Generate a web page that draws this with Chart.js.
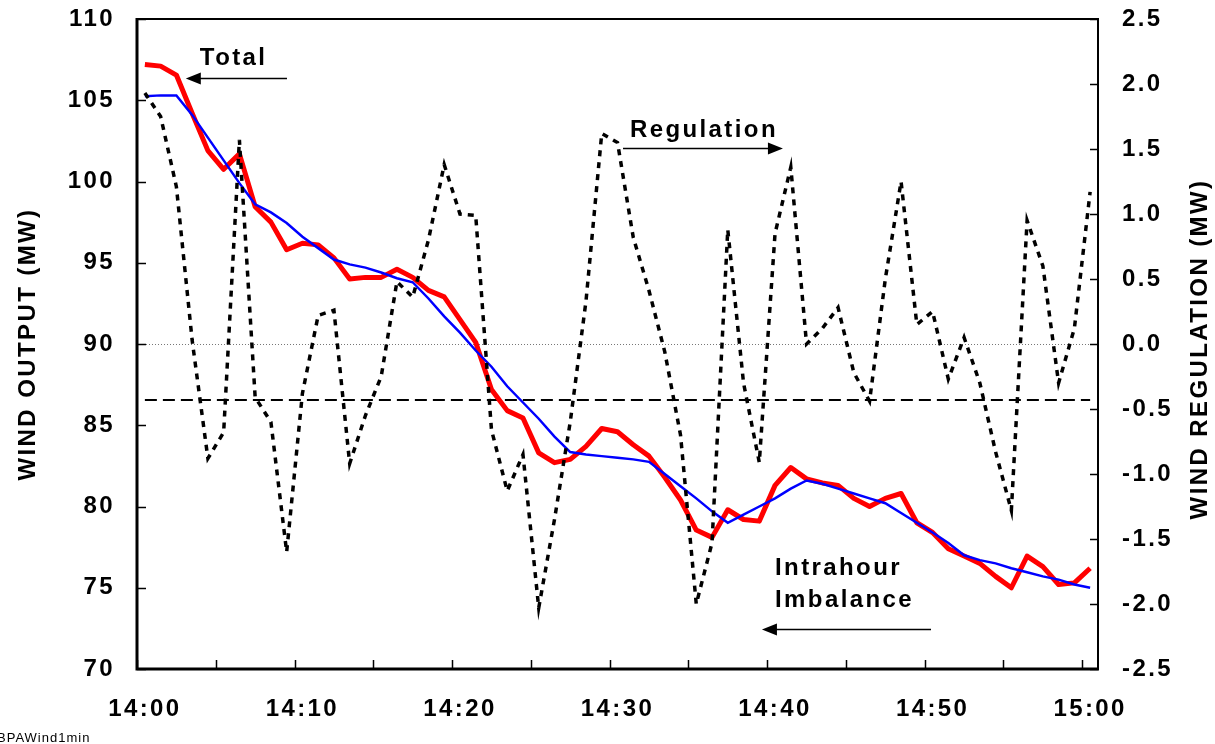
<!DOCTYPE html>
<html>
<head>
<meta charset="utf-8">
<script src="https://cdn.jsdelivr.net/npm/chart.js@4.4.1/dist/chart.umd.min.js"></script>
<style>
    html, body { margin: 0; padding: 0; background: #fff; }
    #wrap { position: relative; width: 1215px; height: 744px; }
</style>
</head>
<body>
<div id="wrap"><canvas id="wind" width="1215" height="744"></canvas></div>
<script>
// one category per minute
const minutes = [
    '14:00', '14:01', '14:02', '14:03', '14:04', '14:05', '14:06', '14:07', '14:08', '14:09',
    '14:10', '14:11', '14:12', '14:13', '14:14', '14:15', '14:16', '14:17', '14:18', '14:19',
    '14:20', '14:21', '14:22', '14:23', '14:24', '14:25', '14:26', '14:27', '14:28', '14:29',
    '14:30', '14:31', '14:32', '14:33', '14:34', '14:35', '14:36', '14:37', '14:38', '14:39',
    '14:40', '14:41', '14:42', '14:43', '14:44', '14:45', '14:46', '14:47', '14:48', '14:49',
    '14:50', '14:51', '14:52', '14:53', '14:54', '14:55', '14:56', '14:57', '14:58', '14:59',
    '15:00'
];
const xTickLabels = ['14:00', '14:10', '14:20', '14:30', '14:40', '14:50', '15:00'];

// wind output, MW (left axis)
const total = [
    107.2, 107.1, 106.55, 104.2, 101.9, 100.75, 101.7, 98.45, 97.5, 95.8,
    96.2, 96.1, 95.3, 94.0, 94.1, 94.1, 94.6, 94.1, 93.3, 92.9,
    91.5, 90.1, 87.2, 85.9, 85.45, 83.3, 82.7, 82.9, 83.7, 84.8,
    84.6, 83.8, 83.1, 81.8, 80.4, 78.55, 78.1, 79.8, 79.2, 79.1,
    81.3, 82.4, 81.7, 81.45, 81.3, 80.5, 80.0, 80.5, 80.8, 79.0,
    78.4, 77.4, 76.95, 76.5, 75.7, 75.0, 76.95, 76.3, 75.2, 75.3,
    76.2
];
const imbalance = [
    105.25, 105.3, 105.3, 104.1, 102.7, 101.3, 99.9, 98.6, 98.1, 97.45,
    96.6, 95.9, 95.2, 94.9, 94.7, 94.4, 94.05, 93.8, 92.8, 91.7,
    90.7, 89.6, 88.6, 87.4, 86.4, 85.4, 84.3, 83.35, 83.2, 83.1,
    83.0, 82.9, 82.75, 82.0, 81.25, 80.5, 79.7, 79.0, 79.5, 80.0,
    80.5, 81.1, 81.6, 81.4, 81.1, 80.8, 80.5, 80.2, 79.6, 79.0,
    78.4, 77.75, 77.0, 76.7, 76.5, 76.2, 75.95, 75.7, 75.5, 75.2,
    75.0
];

// wind regulation, MW (right axis)
const regulation = [
    1.93, 1.75, 1.21, 0.03, -0.88, -0.68, 1.57, -0.41, -0.6, -1.6,
    -0.38, 0.22, 0.26, -0.92, -0.55, -0.25, 0.48, 0.36, 0.8, 1.38,
    1.0, 0.99, -0.66, -1.13, -0.85, -2.03, -1.35, -0.6, 0.33, 1.62,
    1.55, 0.82, 0.41, -0.06, -0.7, -2.0, -1.53, 0.88, -0.3, -0.91,
    0.85, 1.36, 0.0, 0.12, 0.28, -0.22, -0.44, 0.5, 1.25, 0.15,
    0.25, -0.27, 0.05, -0.3, -0.83, -1.28, 0.95, 0.6, -0.3, 0.12,
    1.17
];
const regulationMean = -0.43;

const outputAxis = { min: 70, max: 110, step: 5 };
const regulationAxis = { min: -2.5, max: 2.5, step: 0.5 };

// labels placed in data units: m = minute index, v = MW on the left axis
const notes = [
    { text: 'Total', m: 3.49, v: 107.17 },
    { text: 'Regulation', m: 30.79, v: 102.74 },
    { text: 'Intrahour', m: 40.0, v: 75.78 },
    { text: 'Imbalance', m: 40.0, v: 73.82 }
];
const arrows = [
    { from: 9.02, to: 2.6, v: 106.37 },
    { from: 30.35, to: 40.5, v: 102.06 },
    { from: 49.9, to: 39.17, v: 72.46 }
];

const FONT = '"Liberation Sans", Arial, sans-serif';
const SPACING = '2.4px';

const fmtReg = v => (Math.abs(v) < 1e-9 ? 0 : v).toFixed(1);

const drawArrow = (ctx, x1, y, x2) => {
    const dir = Math.sign(x2 - x1);
    ctx.lineWidth = 1.3;
    ctx.beginPath();
    ctx.moveTo(x1, y);
    ctx.lineTo(x2 - dir * 10, y);
    ctx.stroke();
    ctx.beginPath();
    ctx.moveTo(x2, y);
    ctx.lineTo(x2 - dir * 15, y - 6);
    ctx.lineTo(x2 - dir * 15, y + 6);
    ctx.closePath();
    ctx.fill();
};

const framePlugin = {
    id: 'frame',
    beforeUpdate(chart) { chart.ctx.letterSpacing = SPACING; },
    beforeDraw(chart) { chart.ctx.letterSpacing = SPACING; },
    beforeDatasetsDraw(chart) {
        const { ctx, chartArea: a, scales } = chart;
        const y0 = scales.y1.getPixelForValue(0);
        ctx.save();
        ctx.strokeStyle = '#777';
        ctx.lineWidth = 1;
        ctx.setLineDash([1, 2]);
        ctx.beginPath();
        ctx.moveTo(a.left, y0 + 0.5);
        ctx.lineTo(a.right, y0 + 0.5);
        ctx.stroke();
        ctx.restore();
    },
    afterDraw(chart) {
        const { ctx, chartArea: a, scales } = chart;
        const x = scales.x, y = scales.y, y1 = scales.y1;
        const x0 = x.getPixelForValue(0);
        const slot = x.getPixelForValue(1) - x0;
        const px = m => x0 + m * slot;

        ctx.save();
        ctx.strokeStyle = '#000';
        ctx.fillStyle = '#000';

        // plot frame
        ctx.lineWidth = 2;
        ctx.beginPath();
        ctx.moveTo(a.left, a.top);
        ctx.lineTo(a.right, a.top);
        ctx.lineTo(a.right, a.bottom);
        ctx.stroke();
        ctx.lineWidth = 3;
        ctx.beginPath();
        ctx.moveTo(a.left, a.top - 1);
        ctx.lineTo(a.left, a.bottom);
        ctx.lineTo(a.right + 1, a.bottom);
        ctx.stroke();

        // inward tick marks
        ctx.lineWidth = 1.5;
        ctx.beginPath();
        for (let i = 0; i < minutes.length; i += 5) {
            const tx = Math.round(px(i - 0.5)) + 0.5;
            ctx.moveTo(tx, a.bottom);
            ctx.lineTo(tx, a.bottom - 9);
        }
        for (let v = outputAxis.min; v <= outputAxis.max; v += outputAxis.step) {
            const ty = Math.round(y.getPixelForValue(v)) + 0.5;
            ctx.moveTo(a.left, ty);
            ctx.lineTo(a.left + 9, ty);
        }
        for (let v = regulationAxis.min; v <= regulationAxis.max + 1e-9; v += regulationAxis.step) {
            const ty = Math.round(y1.getPixelForValue(v)) + 0.5;
            ctx.moveTo(a.right, ty);
            ctx.lineTo(a.right - 8, ty);
        }
        ctx.stroke();

        // text labels and arrows
        ctx.letterSpacing = SPACING;
        ctx.font = 'bold 24px ' + FONT;
        ctx.textAlign = 'left';
        ctx.textBaseline = 'alphabetic';
        notes.forEach(n => ctx.fillText(n.text, px(n.m), y.getPixelForValue(n.v)));
        arrows.forEach(r => drawArrow(ctx, px(r.from), Math.round(y.getPixelForValue(r.v)) + 0.5, px(r.to)));

        // axis titles, both read bottom to top
        const midY = (a.top + a.bottom) / 2;
        ctx.textAlign = 'center';
        ctx.save();
        ctx.translate(a.left - 102, midY);
        ctx.rotate(-Math.PI / 2);
        ctx.fillText('WIND OUTPUT (MW)', 0, 0);
        ctx.restore();
        ctx.save();
        ctx.translate(a.right + 109, midY + 5);
        ctx.rotate(-Math.PI / 2);
        ctx.fillText('WIND REGULATION (MW)', 0, 0);
        ctx.restore();

        // file name in the corner
        ctx.letterSpacing = '1px';
        ctx.font = '13px ' + FONT;
        ctx.textAlign = 'left';
        ctx.fillText('BPAWind1min', -3, chart.height - 2);
        ctx.restore();
    }
};

const tickFont = { family: FONT, size: 24, weight: 'bold' };

const fitY = width => s => {
    s.width = width;
    s.paddingTop = 19;
    s.paddingBottom = 0;
};

new Chart(document.getElementById('wind'), {
    type: 'line',
    data: {
        labels: minutes,
        datasets: [
            {
                label: 'Regulation',
                data: regulation,
                yAxisID: 'y1',
                borderColor: '#000',
                borderWidth: 3.5,
                borderDash: [6, 6],
                pointRadius: 0,
                tension: 0,
                fill: false,
            },
            {
                label: 'Intrahour Imbalance',
                data: imbalance,
                yAxisID: 'y',
                borderColor: '#0000ff',
                borderWidth: 2.5,
                pointRadius: 0,
                tension: 0,
                fill: false,
            },
            {
                label: 'Total',
                data: total,
                yAxisID: 'y',
                borderColor: '#ff0000',
                borderWidth: 5,
                borderJoinStyle: 'round',
                pointRadius: 0,
                tension: 0,
                fill: false,
            },
            {
                label: 'Regulation mean',
                data: [
                    { x: minutes[0], y: regulationMean },
                    { x: minutes[minutes.length - 1], y: regulationMean }
                ],
                yAxisID: 'y1',
                borderColor: '#000',
                borderWidth: 2,
                borderDash: [12, 6],
                pointRadius: 0,
                fill: false,
            }
        ]
    },
    options: {
        responsive: false,
        animation: false,
        events: [],
        layout: { padding: 0 },
        plugins: {
            legend: { display: false },
            tooltip: { enabled: false },
        },
        scales: {
            x: {
                type: 'category',
                offset: true,
                grid: { display: false, drawTicks: false },
                border: { display: false },
                ticks: {
                    autoSkip: false,
                    maxRotation: 0,
                    padding: 26,
                    color: '#000',
                    font: tickFont,
                    callback: (val, i) => xTickLabels.includes(minutes[i]) ? minutes[i] : '',
                },
                afterFit: s => {
                    s.height = 75;
                    s.paddingLeft = 0;
                    s.paddingRight = 0;
                },
            },
            y: {
                position: 'left',
                min: outputAxis.min,
                max: outputAxis.max,
                grid: { display: false, drawTicks: false },
                border: { display: false },
                ticks: { stepSize: outputAxis.step, padding: 22, color: '#000', font: tickFont },
                afterFit: fitY(137),
            },
            y1: {
                position: 'right',
                min: regulationAxis.min,
                max: regulationAxis.max,
                grid: { display: false, drawTicks: false },
                border: { display: false },
                ticks: {
                    stepSize: regulationAxis.step,
                    padding: 24,
                    color: '#000',
                    font: tickFont,
                    callback: v => fmtReg(v),
                },
                afterFit: fitY(117),
            }
        }
    },
    plugins: [framePlugin]
});
</script>
</body>
</html>
